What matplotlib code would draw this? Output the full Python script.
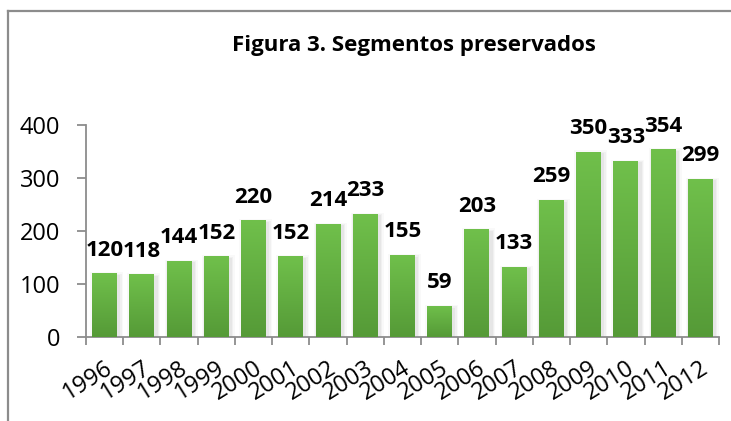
import matplotlib
matplotlib.use("Agg")
import matplotlib.pyplot as plt
import numpy as np
from matplotlib.colors import LinearSegmentedColormap
from matplotlib.patches import Rectangle
from matplotlib.lines import Line2D

years = ["1996", "1997", "1998", "1999", "2000", "2001", "2002", "2003", "2004",
         "2005", "2006", "2007", "2008", "2009", "2010", "2011", "2012"]
segments = [120, 118, 144, 152, 220, 152, 214, 233, 155,
            59, 203, 133, 259, 350, 333, 354, 299]
title = "Figura 3. Segmentos preservados"

plt.rcParams['font.family'] = ['Open Sans', 'DejaVu Sans']

fig = plt.figure(figsize=(7.31, 4.21), dpi=100)
ax = fig.add_axes([86 / 731, 84 / 421, 633 / 731, 212 / 421])

x = np.arange(len(years))
bars = ax.bar(x, segments, width=0.67, color='none', edgecolor='none', zorder=3)

# green gradient, lighter at the top
green = LinearSegmentedColormap.from_list("g", ["#559A37", "#70C04B"])
grad = np.linspace(0, 1, 256).reshape(-1, 1)
px_x = 1 / 37.2
px_y = 400 / 212
for b in bars:
    x0, w, h = b.get_x(), b.get_width(), b.get_height()
    # faint soft shadow
    for k, a in [(4, 0.025), (2.5, 0.035), (1.2, 0.04)]:
        ax.add_patch(Rectangle((x0 - k * px_x + 2 * px_x, 0), w + 2 * k * px_x,
                               h + k * px_y - 3 * px_y, facecolor='black',
                               edgecolor='none', alpha=a, zorder=2))
    im = ax.imshow(grad, cmap=green, origin='lower', aspect='auto',
                   extent=(x0, x0 + w, 0, h), zorder=3)
    im.set_clip_path(b)

for xi, v in zip(x, segments):
    ax.annotate(str(v), xy=(xi, v), xytext=(0, 9), textcoords='offset points',
                ha='center', va='bottom', fontsize=16, fontweight='bold', color='black')

ax.set_xlim(-0.5, len(years) - 0.5)
ax.set_ylim(0, 400)
ax.set_yticks([0, 100, 200, 300, 400])
ax.set_xticks(x)
ax.set_xticklabels(years, rotation=32, ha='right', rotation_mode='anchor', fontsize=17)
ax.set_xticks(np.arange(-0.5, len(years)), minor=True)
ax.tick_params(axis='x', which='major', length=0, pad=14)
ax.tick_params(axis='x', which='minor', length=6, width=1.3, color='#8C8C8C', direction='out')
ax.tick_params(axis='y', length=6.5, width=1.3, color='#8C8C8C', labelsize=17, pad=12)

for s in ['top', 'right']:
    ax.spines[s].set_visible(False)
for s in ['left', 'bottom']:
    ax.spines[s].set_color('#8C8C8C')
    ax.spines[s].set_linewidth(1.3)

fig.text(414 / 731, 1 - 46 / 421, title, ha='center', va='center',
         fontsize=16, fontweight='bold')

# chart frame (only top and left edges inside the image)
fig.add_artist(Line2D([8 / 731, 1.0], [1 - 11 / 421, 1 - 11 / 421],
                      transform=fig.transFigure, color='#8C8C8C', lw=1.6))
fig.add_artist(Line2D([8 / 731, 8 / 731], [0, 1 - 11 / 421],
                      transform=fig.transFigure, color='#8C8C8C', lw=1.6))

fig.savefig("out.png", dpi=100)
